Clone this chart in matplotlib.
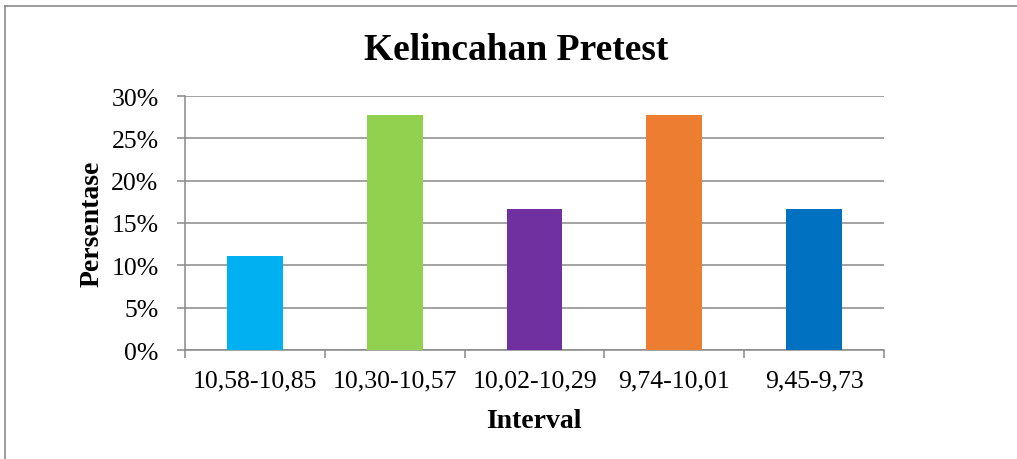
import matplotlib.pyplot as plt
from matplotlib.lines import Line2D
from matplotlib.ticker import FuncFormatter, MultipleLocator

intervals = ["10,58-10,85", "10,30-10,57", "10,02-10,29", "9,74-10,01", "9,45-9,73"]
percent = [11.11, 27.78, 16.67, 27.78, 16.67]
colors = ["#00B0F0", "#92D050", "#7030A0", "#ED7D31", "#0070C0"]

plt.rcParams["font.family"] = ["Liberation Serif", "DejaVu Serif"]
GRID = "#898989"

fig = plt.figure(figsize=(10.17, 4.6), dpi=100)
ax = fig.add_axes([185 / 1017, 1 - 351 / 460, (884 - 185) / 1017, (351 - 97) / 460])

x = range(len(intervals))
ax.bar(x, percent, width=0.4, color=colors, zorder=3)

ax.set_xlim(-0.5, len(intervals) - 0.5)
ax.set_ylim(0, 30)
ax.yaxis.set_major_locator(MultipleLocator(5))
ax.yaxis.set_major_formatter(FuncFormatter(lambda v, p: f"{v:.0f}%"))
ax.grid(axis="y", color=GRID, linewidth=1.1, zorder=0)

ax.set_xticks(list(x))
ax.set_xticklabels(intervals)
ax.set_xticks([i - 0.5 for i in range(len(intervals) + 1)], minor=True)
ax.tick_params(axis="x", which="major", length=0, labelsize=18.5, pad=14, colors="black")
ax.tick_params(axis="x", which="minor", length=6, width=1.1, color=GRID)
ax.tick_params(axis="y", length=6, width=1.1, color=GRID, labelsize=18.5, pad=13)

for side in ["top", "right"]:
    ax.spines[side].set_visible(False)
for side in ["left", "bottom"]:
    ax.spines[side].set_color(GRID)
    ax.spines[side].set_linewidth(1.1)

fig.text(516 / 1017, 1 - 51 / 460, "Kelincahan Pretest",
         ha="center", va="center", fontsize=27, fontweight="bold")
fig.text(534 / 1017, 1 - 421 / 460, "Interval", ha="center", va="center",
         fontsize=20, fontweight="bold")
fig.text(92 / 1017, 1 - 224 / 460, "Persentase", ha="center", va="center",
         fontsize=20, fontweight="bold", rotation=90)

# outer chart border (clipped at right and bottom)
fig.add_artist(Line2D([5 / 1017, 1], [1 - 7 / 460, 1 - 7 / 460], color="#8C8C8C",
                      linewidth=1.2, transform=fig.transFigure))
fig.add_artist(Line2D([5 / 1017, 5 / 1017], [0, 1 - 7 / 460], color="#8C8C8C",
                      linewidth=1.2, transform=fig.transFigure))

fig.savefig("out.png", dpi=100)
